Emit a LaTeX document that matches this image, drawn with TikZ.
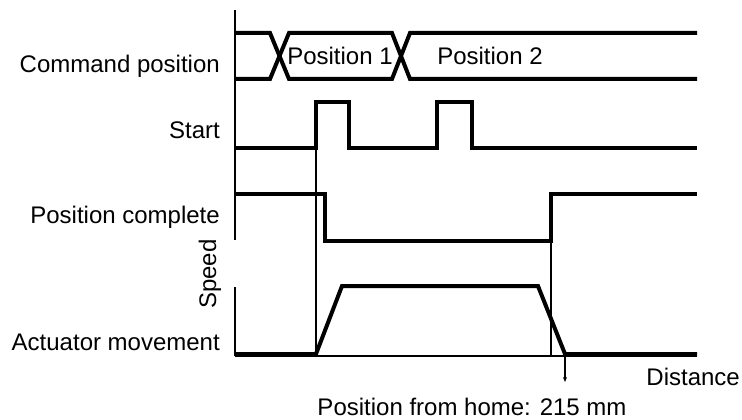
\documentclass[tikz,border=0pt]{standalone}
\usepackage{fontspec}
\setmainfont{Liberation Sans}
\usetikzlibrary{arrows.meta}
\begin{document}
\begin{tikzpicture}[x=1pt,y=-1pt,
  wave/.style={line width=4pt,line join=miter,line cap=butt},
  thin/.style={line width=1.2pt},
  axisline/.style={line width=1.5pt},
  lbl/.style={font=\fontsize{24}{28}\selectfont,inner sep=0pt},
]
\useasboundingbox (0,0) rectangle (742,420);
% axes
\draw[axisline] (235,10) -- (235,240);
\draw[axisline] (235,287) -- (235,356);
\draw[thin] (235,356) -- (697,356);
% guide lines
\draw[thin] (316,148) -- (316,356);
\draw[thin] (551,241) -- (551,356);
% command position
\draw[wave] (235,33) -- (270,33) -- (289,79) -- (392,79) -- (410,33) -- (697,33);
\draw[wave] (235,79) -- (270,79) -- (289,33) -- (392,33) -- (410,79) -- (697,79);
% start
\draw[wave] (235,148) -- (316,148) -- (316,102) -- (349,102) -- (349,148) -- (437,148) -- (437,102) -- (472,102) -- (472,148) -- (697,148);
% position complete
\draw[wave] (235,194) -- (325,194) -- (325,241) -- (551,241) -- (551,194) -- (697,194);
% actuator
\draw[wave] (235,354) -- (316,354) -- (342,286) -- (538,286) -- (565,354) -- (697,354);
% arrow
\coordinate (ta) at (565,356);
\coordinate (tb) at (565,382);
\draw[thin,-{Stealth[length=5pt,width=4pt]}] (ta) -- (tb);
% labels
\node[lbl,anchor=base east] (lcmd) at (220,73) {Command position};
\node[lbl,anchor=base east] (lstart) at (220,138) {Start};
\node[lbl,anchor=base east] (lpc) at (220,223) {Position complete};
\node[lbl,anchor=base east] (lact) at (220,350) {Actuator movement};
\node[lbl,rotate=90] (lspeed) at (210,274) {Speed};
\node[lbl,anchor=base] (lp1) at (340,65) {Position 1};
\node[lbl,anchor=base] (lp2) at (490,65) {Position 2};
\node[lbl,anchor=base east] (ldist) at (740,385) {Distance};
\node[lbl,anchor=base] (lhome) at (472,415) {Position from home: 215 mm};
\end{tikzpicture}
\end{document}
